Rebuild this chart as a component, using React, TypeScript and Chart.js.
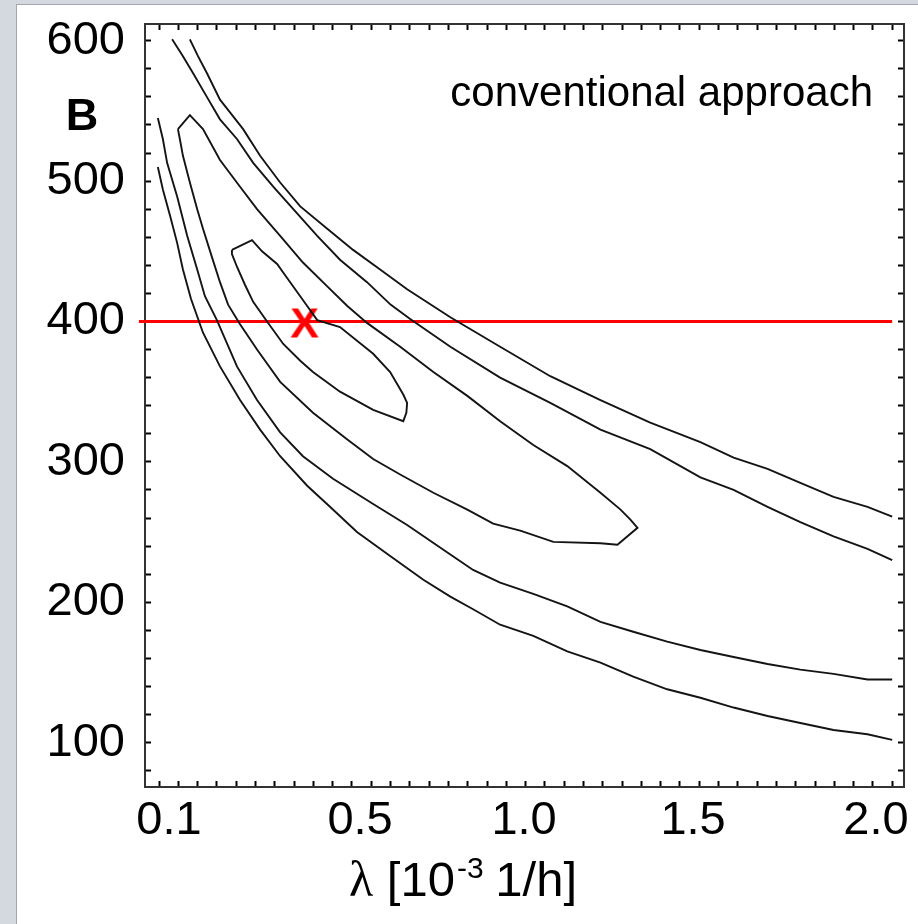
import React, { useEffect, useRef } from 'react';
import { Chart, registerables } from 'chart.js';

Chart.register(...registerables);

// ---------- data (λ in 10^-3 1/h, B) ----------
const LEVEL_A_UPPER: [number, number][] = [
  [0.180, 601], [0.201, 589], [0.224, 577], [0.258, 558], [0.284, 549], [0.318, 537],
  [0.362, 518], [0.414, 499], [0.466, 482], [0.536, 466], [0.603, 451], [0.673, 437],
  [0.743, 423], [0.855, 403], [0.984, 382], [1.114, 361], [1.244, 344], [1.373, 328],
  [1.503, 314], [1.589, 303], [1.677, 295], [1.762, 285], [1.848, 275], [1.936, 268], [2.0, 261],
];
const LEVEL_B_UPPER: [number, number][] = [
  [0.134, 601], [0.162, 589], [0.188, 577], [0.224, 560], [0.258, 544], [0.302, 530],
  [0.344, 513], [0.396, 496], [0.448, 480], [0.510, 461], [0.569, 444], [0.639, 428],
  [0.700, 412], [0.750, 402], [0.855, 382], [0.984, 360], [1.114, 342], [1.244, 323],
  [1.373, 309], [1.503, 289], [1.589, 280], [1.677, 268], [1.762, 257], [1.848, 247], [1.936, 238], [2.0, 230],
];
const LEVEL_B_LOWER: [number, number][] = [
  [0.097, 545], [0.110, 530], [0.121, 513], [0.147, 489], [0.173, 461], [0.199, 437],
  [0.219, 418], [0.250, 401], [0.302, 368], [0.354, 344], [0.414, 321], [0.473, 304],
  [0.551, 288], [0.655, 270], [0.743, 255], [0.855, 234], [0.914, 223], [0.984, 214],
  [1.070, 206], [1.158, 197], [1.244, 186], [1.329, 179], [1.417, 172], [1.503, 166],
  [1.589, 161], [1.677, 156], [1.762, 152], [1.848, 149], [1.936, 145], [2.0, 145],
];
const LEVEL_A_LOWER: [number, number][] = [
  [0.097, 510], [0.110, 494], [0.129, 475], [0.147, 456], [0.162, 437], [0.183, 416],
  [0.214, 392], [0.258, 368], [0.310, 344], [0.362, 323], [0.414, 304], [0.484, 283],
  [0.543, 268], [0.613, 250], [0.699, 233], [0.785, 216], [0.855, 204], [0.914, 195],
  [0.984, 184], [1.070, 176], [1.158, 165], [1.244, 157], [1.329, 147], [1.417, 138],
  [1.503, 132], [1.589, 125], [1.677, 119], [1.762, 114], [1.848, 109], [1.936, 106], [2.0, 102],
];
const LEVEL_C_LOOP: [number, number][] = [
  [0.149, 537], [0.180, 547], [0.214, 537], [0.258, 515], [0.310, 496], [0.354, 480],
  [0.414, 461], [0.473, 442], [0.536, 425], [0.588, 411], [0.639, 399], [0.725, 382],
  [0.811, 364], [0.899, 347], [0.984, 329], [1.070, 312], [1.158, 297], [1.244, 278],
  [1.296, 266], [1.321, 259], [1.340, 253], [1.288, 241], [1.244, 242], [1.122, 243],
  [1.036, 251], [0.966, 256], [0.899, 266], [0.811, 278], [0.725, 291], [0.655, 302],
  [0.588, 316], [0.499, 335], [0.414, 357], [0.354, 380], [0.310, 398], [0.279, 412],
  [0.258, 428], [0.237, 446], [0.214, 466], [0.199, 480], [0.180, 499], [0.162, 518],
  [0.154, 530], [0.149, 537],
];
const LEVEL_D_LOOP: [number, number][] = [
  [0.289, 451], [0.341, 458], [0.367, 450], [0.406, 441], [0.432, 431], [0.458, 421],
  [0.484, 411], [0.510, 401], [0.569, 396], [0.655, 377], [0.699, 364], [0.733, 348],
  [0.743, 342], [0.741, 335], [0.733, 329], [0.655, 337], [0.569, 350], [0.499, 364],
  [0.466, 372], [0.422, 384], [0.380, 400], [0.344, 414], [0.323, 426], [0.302, 439],
  [0.289, 448], [0.289, 451],
];
const REFERENCE_LINE: [number, number][] = [[0.048, 400], [2.0, 400]];
const ESTIMATE_POINT: [number, number][] = [[0.477, 400]];

// ---------- axes ----------
const X_MIN = 0.0637;
const X_MAX = 2.0306;
const Y_MIN = 68.4;
const Y_MAX = 611.9;
const X_MINOR_TICKS = [
  0.1, 0.15, 0.2, 0.25, 0.3, 0.35, 0.4, 0.45, 0.5, 0.55, 0.6, 0.65, 0.7, 0.75, 0.8, 0.85,
  0.9, 0.95, 1.0, 1.05, 1.1, 1.15, 1.2, 1.25, 1.3, 1.35, 1.4, 1.45, 1.5, 1.55, 1.6, 1.65,
  1.7, 1.75, 1.8, 1.85, 1.9, 1.95, 2.0,
];
const X_TICK_LABELS = ['0.1', '0.5', '1.0', '1.5', '2.0'];
const X_TICK_LABEL_AT = [0.126, 0.621, 1.046, 1.484, 1.958];
const Y_TICKS = [
  80, 100, 120, 140, 160, 180, 200, 220, 240, 260, 280, 300, 320, 340, 360, 380, 400,
  420, 440, 460, 480, 500, 520, 540, 560, 580, 600,
];
const Y_TICK_LABELS = [100, 200, 300, 400, 500, 600];
const Y_TITLE = 'B';
const X_TITLE_PARTS = ['λ', ' [10', '-3', ' 1/h]'];
const PANEL_NOTE = 'conventional approach';

const FONT = "'Liberation Sans', Arial, Helvetica, sans-serif";
const SERIF = "'Liberation Serif', 'Times New Roman', serif";
const INK = '#141414';
const RED = '#ff0000';

function makeMarker(): HTMLCanvasElement {
  const c = document.createElement('canvas');
  c.width = 46;
  c.height = 46;
  const g = c.getContext('2d')!;
  g.fillStyle = RED;
  g.font = `bold 43px ${FONT}`;
  g.textAlign = 'center';
  g.textBaseline = 'alphabetic';
  g.fillText('X', 23, 38.5);
  return c;
}

const textPlugin = {
  id: 'figureTexts',
  afterDraw(chart: any) {
    const { ctx, chartArea } = chart;
    ctx.save();
    ctx.fillStyle = '#000';
    ctx.textBaseline = 'alphabetic';
    // y axis title
    ctx.font = `bold 45px ${FONT}`;
    ctx.textAlign = 'center';
    ctx.fillText(Y_TITLE, chartArea.left - 63, chartArea.top + 106);
    // panel note
    ctx.font = `42px ${FONT}`;
    ctx.textAlign = 'right';
    ctx.fillText(PANEL_NOTE, chartArea.right - 31, chartArea.top + 82);
    // x axis title with superscript, centred under the plot
    ctx.textAlign = 'left';
    const base = chartArea.bottom + 109;
    const fonts = [`50px ${SERIF}`, `49px ${FONT}`, `30px ${FONT}`, `49px ${FONT}`];
    const rise = [0, 0, 18, 0];
    const gaps = [0, 2, -2, 0];
    const widths = X_TITLE_PARTS.map((t, i) => {
      ctx.font = fonts[i];
      return ctx.measureText(t).width;
    });
    const total = widths.reduce((a, b) => a + b, 0) + gaps.reduce((a, b) => a + b, 0);
    let x = chartArea.left + 318 - total / 2;
    X_TITLE_PARTS.forEach((t, i) => {
      ctx.font = fonts[i];
      ctx.fillText(t, x, base - rise[i]);
      x += widths[i] + gaps[i];
    });
    ctx.restore();
  },
};

const toXY = (pts: [number, number][]) => pts.map(([x, y]) => ({ x, y }));

function contour(label: string, pts: [number, number][]) {
  return {
    label,
    data: toXY(pts),
    showLine: true,
    borderColor: INK,
    borderWidth: 1.9,
    pointRadius: 0,
    tension: 0,
    fill: false,
  };
}

export default function App() {
  const ref = useRef<HTMLCanvasElement>(null);

  useEffect(() => {
    const canvas = ref.current;
    if (!canvas) return;
    const marker = makeMarker();
    const nMinor = X_MINOR_TICKS.length;

    const innerTicks = {
      drawOnChartArea: false,
      drawTicks: true,
      tickLength: -6,
      tickWidth: 2,
      tickColor: '#000',
    };
    const border = { display: true, color: '#333', width: 2 };
    const tickFont = { family: FONT, size: 47 };

    const chart = new Chart(canvas, {
      type: 'scatter',
      data: {
        datasets: [
          contour('A upper', LEVEL_A_UPPER),
          contour('B upper', LEVEL_B_UPPER),
          contour('B lower', LEVEL_B_LOWER),
          contour('A lower', LEVEL_A_LOWER),
          contour('C', LEVEL_C_LOOP),
          contour('D', LEVEL_D_LOOP),
          {
            label: 'B = 400',
            data: toXY(REFERENCE_LINE),
            showLine: true,
            borderColor: RED,
            borderWidth: 3.2,
            pointRadius: 0,
            clip: false,
          } as any,
          {
            label: 'estimate',
            data: toXY(ESTIMATE_POINT),
            showLine: false,
            pointStyle: marker,
            pointRadius: 20,
            clip: false,
          } as any,
        ],
      },
      options: {
        animation: false,
        responsive: false,
        devicePixelRatio: 1,
        layout: { padding: 0, autoPadding: false },
        plugins: { legend: { display: false }, tooltip: { enabled: false } },
        scales: {
          x: {
            type: 'linear',
            position: 'bottom',
            min: X_MIN,
            max: X_MAX,
            afterBuildTicks: (s: any) => {
              s.ticks = [
                ...X_MINOR_TICKS.map((v) => ({ value: v })),
                ...X_TICK_LABEL_AT.map((v) => ({ value: v })),
              ];
            },
            afterFit: (s: any) => {
              s.height = 137;
              s.paddingLeft = 0;
              s.paddingRight = 0;
            },
            ticks: {
              autoSkip: false,
              maxRotation: 0,
              padding: 12,
              color: '#000',
              font: tickFont,
              callback: (_v: any, i: number) => (i >= nMinor ? X_TICK_LABELS[i - nMinor] : ''),
            },
            grid: {
              ...innerTicks,
              tickColor: (c: any) => (c.index >= nMinor ? 'rgba(0,0,0,0)' : '#000'),
              tickWidth: (c: any) => (c.index >= nMinor ? 0 : 2),
            },
            border,
          },
          xTop: {
            type: 'linear',
            position: 'top',
            min: X_MIN,
            max: X_MAX,
            afterBuildTicks: (s: any) => {
              s.ticks = X_MINOR_TICKS.map((v) => ({ value: v }));
            },
            afterFit: (s: any) => {
              s.height = 24;
              s.paddingLeft = 0;
              s.paddingRight = 0;
            },
            ticks: { display: false, autoSkip: false },
            grid: innerTicks,
            border,
          },
          y: {
            type: 'linear',
            position: 'left',
            min: Y_MIN,
            max: Y_MAX,
            afterBuildTicks: (s: any) => {
              s.ticks = Y_TICKS.map((v) => ({ value: v }));
            },
            afterFit: (s: any) => {
              s.width = 145;
              s.paddingTop = 0;
              s.paddingBottom = 0;
            },
            ticks: {
              autoSkip: false,
              padding: 26,
              color: '#000',
              font: tickFont,
              callback: (v: any) => (Y_TICK_LABELS.includes(v) ? String(v) : ''),
            },
            grid: innerTicks,
            border,
          },
          yRight: {
            type: 'linear',
            position: 'right',
            min: Y_MIN,
            max: Y_MAX,
            afterBuildTicks: (s: any) => {
              s.ticks = Y_TICKS.map((v) => ({ value: v }));
            },
            afterFit: (s: any) => {
              s.width = 14;
              s.paddingTop = 0;
              s.paddingBottom = 0;
            },
            ticks: { display: false, autoSkip: false },
            grid: innerTicks,
            border,
          },
        },
      } as any,
      plugins: [textPlugin],
    });
    return () => chart.destroy();
  }, []);

  return (
    <div
      style={{
        position: 'absolute',
        left: 0,
        top: 0,
        width: 918,
        height: 924,
        background: '#d4d8df',
        overflow: 'hidden',
      }}
    >
      <div
        style={{
          position: 'absolute',
          left: 16,
          top: 4,
          right: 0,
          bottom: 0,
          background: '#fff',
          borderLeft: '1px solid #a3a7ad',
          borderTop: '1px solid #a3a7ad',
        }}
      />
      <canvas
        ref={ref}
        width={918}
        height={924}
        style={{ position: 'absolute', left: 0, top: 0, width: 918, height: 924 }}
      />
    </div>
  );
}
